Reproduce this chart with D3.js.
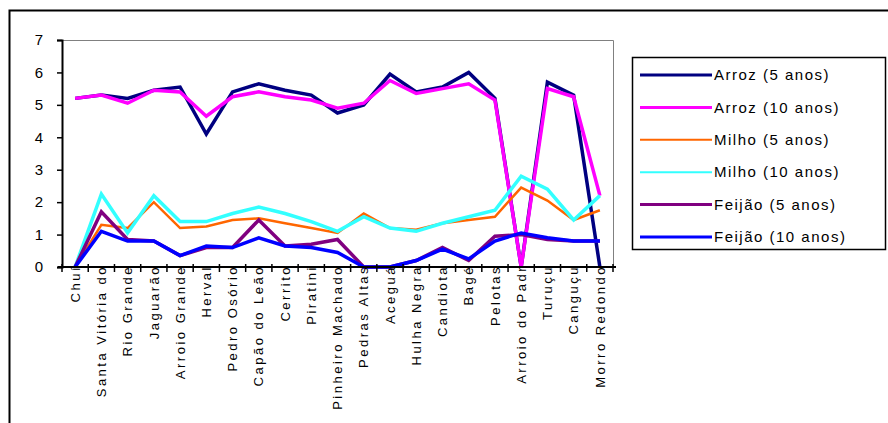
<!DOCTYPE html>
<html>
<head>
<meta charset="utf-8">
<script src="https://cdn.jsdelivr.net/npm/d3@7"></script>
<style>
  html, body { margin: 0; padding: 0; background: #fff; }
  svg { display: block; font-family: Arial, "Liberation Sans", sans-serif; }
</style>
</head>
<body>
<svg id="chart" width="888" height="423"></svg>
<script>
// Municípios (eixo X)
const municipios = ["Chuí", "Santa Vitória do", "Rio Grande", "Jaguarão", "Arroio Grande", "Herval",
  "Pedro Osório", "Capão do Leão", "Cerrito", "Piratini", "Pinheiro Machado", "Pedras Altas",
  "Aceguá", "Hulha Negra", "Candiota", "Bagé", "Pelotas", "Arroio do Padr", "Turuçu",
  "Canguçu", "Morro Redondo"];

// Séries
const arroz5   = [5.2, 5.3, 5.2, 5.45, 5.55, 4.1, 5.4, 5.65, 5.45, 5.3, 4.75, 5.0, 5.95, 5.4, 5.55, 6.0, 5.2, 0, 5.7, 5.3, 0];
const arroz10  = [5.2, 5.3, 5.05, 5.45, 5.4, 4.65, 5.25, 5.4, 5.25, 5.15, 4.9, 5.05, 5.75, 5.35, 5.5, 5.65, 5.15, 0, 5.5, 5.25, 2.2];
const milho5   = [0, 1.3, 1.2, 2.0, 1.2, 1.25, 1.45, 1.5, 1.35, 1.2, 1.05, 1.65, 1.2, 1.15, 1.35, 1.45, 1.55, 2.45, 2.05, 1.45, 1.75];
const milho10  = [0, 2.25, 1.05, 2.2, 1.4, 1.4, 1.65, 1.85, 1.65, 1.4, 1.1, 1.55, 1.2, 1.1, 1.35, 1.55, 1.75, 2.8, 2.4, 1.45, 2.2];
const feijao5  = [0, 1.7, 0.85, 0.8, 0.35, 0.6, 0.6, 1.45, 0.65, 0.7, 0.85, 0, 0, 0.2, 0.6, 0.2, 0.95, 1.0, 0.85, 0.8, 0.8];
const feijao10 = [0, 1.1, 0.8, 0.8, 0.35, 0.65, 0.6, 0.9, 0.65, 0.6, 0.45, 0, 0, 0.2, 0.55, 0.25, 0.8, 1.05, 0.9, 0.8, 0.8];

const yTicks = [0, 1, 2, 3, 4, 5, 6, 7];

const series = [
  { name: "Arroz (5 anos)",   values: arroz5,   color: "#000080", width: 3.5, legendWidth: 3 },
  { name: "Arroz (10 anos)",  values: arroz10,  color: "#ff00ff", width: 3.5, legendWidth: 3 },
  { name: "Milho (5 anos)",   values: milho5,   color: "#ff6600", width: 2.5, legendWidth: 2 },
  { name: "Milho (10 anos)",  values: milho10,  color: "#33ffff", width: 3.5, legendWidth: 2 },
  { name: "Feijão (5 anos)",  values: feijao5,  color: "#800080", width: 3.5, legendWidth: 3 },
  { name: "Feijão (10 anos)", values: feijao10, color: "#0000ff", width: 3.5, legendWidth: 3 }
];

const svg = d3.select("#chart");

// Moldura externa do gráfico
svg.append("rect")
  .attr("x", 9.5).attr("y", 10.5)
  .attr("width", 950).attr("height", 500)
  .attr("fill", "none").attr("stroke", "#000").attr("stroke-width", 2);

const plot = { left: 62, top: 40, right: 613, bottom: 267 };

const x = d3.scaleBand()
  .domain(municipios)
  .range([plot.left, plot.right]);

const y = d3.scaleLinear()
  .domain([0, 7])
  .range([plot.bottom, plot.top]);

// Borda cinza da área de plotagem (topo e direita)
svg.append("path")
  .attr("d", `M${plot.left},${plot.top + 0.5}H${plot.right + 0.5}V${plot.bottom}`)
  .attr("fill", "none").attr("stroke", "#808080").attr("stroke-width", 1);

// Linhas das séries
const line = d3.line()
  .x((d, i) => x(municipios[i]) + x.bandwidth() / 2)
  .y(d => y(d));

const seriesG = svg.append("g");
series.forEach(s => {
  seriesG.append("path")
    .datum(s.values)
    .attr("d", line)
    .attr("fill", "none")
    .attr("stroke", s.color)
    .attr("stroke-width", s.width)
    .attr("stroke-linejoin", "miter");
});

// Eixo Y
const yAxis = svg.append("g")
  .attr("transform", `translate(${plot.left},0)`)
  .call(d3.axisLeft(y).tickValues(yTicks).tickFormat(d3.format("d")).tickSize(5).tickPadding(14));
yAxis.select(".domain").attr("stroke", "#000").attr("stroke-width", 2);
yAxis.selectAll(".tick line").attr("stroke", "#000").attr("stroke-width", 1.5);
yAxis.selectAll(".tick text")
  .attr("font-size", 15)
  .attr("fill", "#000")
  .style("font-family", "Arial, 'Liberation Sans', sans-serif");

// Eixo X: marcas entre categorias
const xAxisG = svg.append("g");
xAxisG.append("line")
  .attr("x1", plot.left - 4).attr("x2", plot.right + 3)
  .attr("y1", plot.bottom).attr("y2", plot.bottom)
  .attr("stroke", "#000").attr("stroke-width", 2);
const boundaries = municipios.map(m => x(m)).concat([x.range()[1]]);
xAxisG.selectAll("line.tick")
  .data(boundaries)
  .join("line")
  .attr("class", "tick")
  .attr("x1", d => d).attr("x2", d => d)
  .attr("y1", plot.bottom - 3).attr("y2", plot.bottom + 5)
  .attr("stroke", "#000").attr("stroke-width", 1.5);

// Rótulos das categorias (verticais)
xAxisG.selectAll("text.cat")
  .data(municipios)
  .join("text")
  .attr("class", "cat")
  .attr("transform", d => `translate(${x(d) + x.bandwidth() / 2},${plot.bottom - 2}) rotate(-90)`)
  .attr("dy", "0.36em")
  .attr("text-anchor", "end")
  .attr("font-size", 13)
  .attr("letter-spacing", "2.5px")
  .attr("fill", "#000")
  .text(d => d);

// Legenda
const legend = svg.append("g");
legend.append("rect")
  .attr("x", 632.5).attr("y", 57.5)
  .attr("width", 253).attr("height", 192)
  .attr("fill", "#fff").attr("stroke", "#000").attr("stroke-width", 1.5);

const legendY = d3.scalePoint()
  .domain(series.map(s => s.name))
  .range([75, 237]);

series.forEach(s => {
  const yy = legendY(s.name);
  legend.append("line")
    .attr("x1", 640).attr("x2", 712)
    .attr("y1", yy).attr("y2", yy)
    .attr("stroke", s.color).attr("stroke-width", s.legendWidth);
  legend.append("text")
    .attr("x", 714).attr("y", yy)
    .attr("dy", "0.35em")
    .attr("font-size", 15)
    .attr("letter-spacing", "1.5px")
    .attr("fill", "#000")
    .text(s.name);
});
</script>
</body>
</html>
